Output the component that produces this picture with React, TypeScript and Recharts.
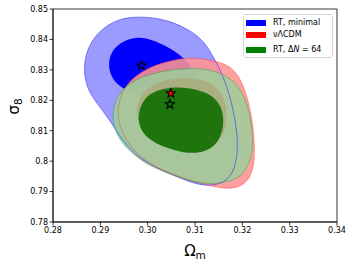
import React from 'react';
import { ScatterChart, Scatter, XAxis, YAxis, Legend, ReferenceArea } from 'recharts';

// contour outlines [Omega_m, sigma_8]
const blueOuter: [number, number][] = [
  [0.29627, 0.84737], [0.30049, 0.84737], [0.30472, 0.84606], [0.30894, 0.8431], [0.31211, 0.83916],
  [0.31423, 0.83324], [0.31634, 0.82667], [0.31803, 0.81779], [0.31909, 0.80794], [0.31887, 0.80038],
  [0.31782, 0.79545], [0.31592, 0.79282], [0.31317, 0.79183], [0.31, 0.79249], [0.30577, 0.79512],
  [0.30049, 0.79873], [0.2969, 0.80268], [0.29415, 0.80794], [0.29268, 0.81188], [0.28993, 0.81779],
  [0.28782, 0.82207], [0.28676, 0.82667], [0.28655, 0.83127], [0.28718, 0.83653], [0.28887, 0.84113],
  [0.2912, 0.84441], [0.29373, 0.84639],
];
const blueInner: [number, number][] = [
  [0.29944, 0.8408], [0.30366, 0.83817], [0.30789, 0.8339], [0.31, 0.8293], [0.31106, 0.82338],
  [0.30958, 0.81845], [0.30641, 0.81681], [0.30155, 0.81845], [0.29732, 0.82174], [0.29458, 0.82404],
  [0.29268, 0.82667], [0.29183, 0.82995], [0.29183, 0.83324], [0.29246, 0.8362], [0.29415, 0.83883],
  [0.29648, 0.84047],
];
const redOuter: [number, number][] = [
  [0.31106, 0.8339], [0.31528, 0.83258], [0.31803, 0.83061], [0.32014, 0.82568], [0.32162, 0.81779],
  [0.32247, 0.80925], [0.32268, 0.80038], [0.32183, 0.79479], [0.31993, 0.79183], [0.3174, 0.79085],
  [0.31423, 0.7915], [0.31106, 0.79282], [0.30747, 0.79446], [0.30409, 0.79643], [0.30049, 0.79906],
  [0.29732, 0.80301], [0.295, 0.80794], [0.29373, 0.81352], [0.29373, 0.81779], [0.29437, 0.82174],
  [0.29563, 0.82535], [0.29775, 0.82831], [0.30007, 0.83061], [0.30366, 0.83258], [0.30747, 0.8339],
];
const redInner: [number, number][] = [
  [0.30789, 0.82765], [0.31211, 0.82667], [0.31486, 0.82404], [0.31634, 0.8201], [0.31676, 0.81517],
  [0.31634, 0.81024], [0.31528, 0.80629], [0.31211, 0.80366], [0.30789, 0.80301], [0.30366, 0.80432],
  [0.30049, 0.80695], [0.29838, 0.81089], [0.29754, 0.81582], [0.29796, 0.8201], [0.29986, 0.82404],
  [0.30324, 0.82667],
];
const greenOuter: [number, number][] = [
  [0.30155, 0.82897], [0.30577, 0.83028], [0.31106, 0.83061], [0.31528, 0.8293], [0.31887, 0.82568],
  [0.32078, 0.8201], [0.32183, 0.81352], [0.32225, 0.80695], [0.32204, 0.80202], [0.32099, 0.79775],
  [0.31951, 0.79479], [0.31697, 0.79315], [0.31359, 0.79249], [0.31106, 0.79282], [0.30747, 0.79413],
  [0.30409, 0.79611], [0.30049, 0.79841], [0.29796, 0.80103], [0.29521, 0.80465], [0.29352, 0.80859],
  [0.29268, 0.81286], [0.29268, 0.81681], [0.29352, 0.82108], [0.29521, 0.82437], [0.29796, 0.82732],
];
const greenInner: [number, number][] = [
  [0.30514, 0.82437], [0.30894, 0.82404], [0.31211, 0.82272], [0.31423, 0.82075], [0.31571, 0.81747],
  [0.31613, 0.81286], [0.31549, 0.80794], [0.3138, 0.80432], [0.31106, 0.80268], [0.30747, 0.80268],
  [0.30409, 0.80432], [0.30113, 0.80629], [0.29901, 0.80892], [0.29796, 0.81286], [0.29817, 0.81681],
  [0.29944, 0.82108], [0.30197, 0.82338],
];

// best-fit points
const blueStar: [number, number][] = [[0.2987, 0.8314]];
const redStar: [number, number][] = [[0.3049, 0.8223]];
const greenStar: [number, number][] = [[0.3047, 0.8187]];

const xTicks = [0.28, 0.29, 0.3, 0.31, 0.32, 0.33, 0.34];
const xTickLabels = ['0.28', '0.29', '0.30', '0.31', '0.32', '0.33', '0.34'];
const yTicks = [0.78, 0.79, 0.8, 0.81, 0.82, 0.83, 0.84, 0.85];
const yTickLabels = ['0.78', '0.79', '0.8', '0.81', '0.82', '0.83', '0.84', '0.85'];

const legendColors = ['#0000ff', '#ff0000', '#008000'];

const pts = (a: [number, number][]) => a.map(([x, y]) => ({ x, y }));

const FONT = '"DejaVu Sans", sans-serif';

const NoDot = () => null;

const Star = (props: any) => {
  const { cx, cy, fill } = props;
  if (cx == null || cy == null) return null;
  const R = 4.8;
  const r = 2.0;
  const p: string[] = [];
  for (let i = 0; i < 10; i++) {
    const rad = i % 2 === 0 ? R : r;
    const a = -Math.PI / 2 + (i * Math.PI) / 5;
    p.push(`${cx + rad * Math.cos(a)},${cy + rad * Math.sin(a)}`);
  }
  return <polygon points={p.join(' ')} fill={fill} stroke="#000" strokeWidth={1.1} strokeLinejoin="miter" />;
};

const fills = [
  { key: 'bo', data: blueOuter, fill: '#8f8fff', op: 0.9 },
  { key: 'bi', data: blueInner, fill: '#0000ff', op: 1 },
  { key: 'ro', data: redOuter, fill: '#ff9393', op: 0.88 },
  { key: 'ri', data: redInner, fill: '#ff0000', op: 1 },
  { key: 'go', data: greenOuter, fill: '#9acf9a', op: 0.84 },
  { key: 'gi', data: greenInner, fill: '#106e00', op: 0.9 },
];
const outlines = [
  { key: 'bl', data: blueOuter, stroke: '#3333ff', op: 0.75 },
  { key: 'rl', data: redOuter, stroke: '#ff3333', op: 0.55 },
  { key: 'gl', data: greenOuter, stroke: '#2a9a2a', op: 0.55 },
];

const XLabel = (props: any) => {
  const vb = props.viewBox || {};
  const cx = vb.x + vb.width / 2;
  return (
    <text x={cx} y={256} textAnchor="middle" fontFamily={FONT} fill="#000">
      <tspan fontSize={15}>Ω</tspan>
      <tspan fontSize={10.5} dy={3}>m</tspan>
    </text>
  );
};

const YLabel = (props: any) => {
  const vb = props.viewBox || {};
  const cy = vb.y + vb.height / 2 - 9;
  return (
    <text x={0} y={0} transform={`translate(18.5,${cy}) rotate(-90)`} textAnchor="middle" fontFamily={FONT} fill="#000">
      <tspan fontSize={15}>σ</tspan>
      <tspan fontSize={10.5} dy={3}>8</tspan>
    </text>
  );
};

const legendLabels: React.ReactNode[] = [
  'RT, minimal',
  'νΛCDM',
  <span key="g">RT, Δ<i>N</i> = 64</span>,
];
const legendRowCenters = [8, 19.5, 35.3];

const LegendBox = () => (
  <div
    style={{
      position: 'relative',
      width: 90,
      height: 44,
      boxSizing: 'border-box',
      border: '1px solid #d4d4d4',
      borderRadius: 3,
      background: 'rgba(255,255,255,0.85)',
      fontFamily: FONT,
      fontSize: 8,
      color: '#000',
    }}
  >
    {legendLabels.map((lab, i) => (
      <div key={i}>
        <div
          style={{
            position: 'absolute',
            left: 2,
            top: legendRowCenters[i] - 3,
            width: 20,
            height: 6,
            background: legendColors[i],
          }}
        />
        <div
          style={{
            position: 'absolute',
            left: 29,
            top: legendRowCenters[i] - 5,
            height: 10,
            lineHeight: '10px',
            whiteSpace: 'nowrap',
          }}
        >
          {lab}
        </div>
      </div>
    ))}
  </div>
);

export default function App() {
  return (
    <div style={{ position: 'absolute', left: 0, top: 0, width: 354, height: 266, background: '#fff' }}>
      <ScatterChart width={354} height={266} margin={{ top: 9, right: 17, bottom: 0, left: 0 }}>
        <XAxis
          type="number"
          dataKey="x"
          domain={[0.28, 0.34]}
          allowDataOverflow
          ticks={xTicks}
          tickFormatter={(v: number) => xTickLabels[xTicks.findIndex((t) => Math.abs(t - v) < 1e-9)] ?? String(v)}
          height={44}
          tickSize={3.5}
          tickMargin={1.5}
          axisLine={{ stroke: '#000', strokeWidth: 0.8 }}
          tickLine={{ stroke: '#000', strokeWidth: 0.8 }}
          tick={{ fontSize: 8, fontFamily: FONT, fill: '#000' }}
          interval={0}
          label={<XLabel />}
        />
        <YAxis
          type="number"
          dataKey="y"
          domain={[0.78, 0.85]}
          allowDataOverflow
          ticks={yTicks}
          tickFormatter={(v: number) => yTickLabels[yTicks.findIndex((t) => Math.abs(t - v) < 1e-9)] ?? String(v)}
          width={53}
          tickSize={3.5}
          tickMargin={1.5}
          axisLine={{ stroke: '#000', strokeWidth: 0.8 }}
          tickLine={{ stroke: '#000', strokeWidth: 0.8 }}
          tick={{ fontSize: 8, fontFamily: FONT, fill: '#000' }}
          interval={0}
          label={<YLabel />}
        />
        {fills.map((f) => (
          <Scatter
            key={f.key}
            data={pts(f.data)}
            shape={NoDot}
            line={{ fill: f.fill, fillOpacity: f.op, stroke: 'none' }}
            lineType="joint"
            lineJointType="basisClosed"
            legendType="none"
            isAnimationActive={false}
          />
        ))}
        {outlines.map((o) => (
          <Scatter
            key={o.key}
            data={pts(o.data)}
            shape={NoDot}
            line={{ fill: 'none', stroke: o.stroke, strokeWidth: 0.8, strokeOpacity: o.op }}
            lineType="joint"
            lineJointType="basisClosed"
            legendType="none"
            isAnimationActive={false}
          />
        ))}
        <Scatter data={pts(blueStar)} fill="#0000ff" shape={Star} legendType="none" isAnimationActive={false} />
        <Scatter data={pts(redStar)} fill="#ff0000" shape={Star} legendType="none" isAnimationActive={false} />
        <Scatter data={pts(greenStar)} fill="#008000" shape={Star} legendType="none" isAnimationActive={false} />
        <ReferenceArea x1={0.28} x2={0.34} y1={0.78} y2={0.85} fill="none" stroke="#000" strokeWidth={0.8} ifOverflow="visible" />
        <Legend
          layout="vertical"
          align="center"
          verticalAlign="middle"
          content={<LegendBox />}
          wrapperStyle={{ left: 243, top: 14, width: 90, height: 44 }}
        />
      </ScatterChart>
    </div>
  );
}
